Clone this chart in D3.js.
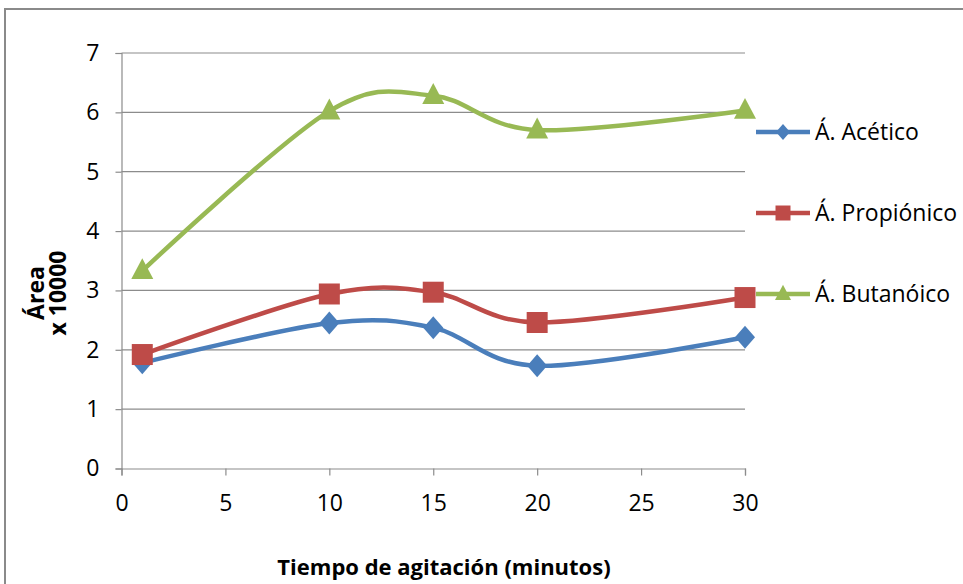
<!DOCTYPE html>
<html>
<head>
<meta charset="utf-8">
<script src="https://cdn.jsdelivr.net/npm/d3@7"></script>
<style>
  html, body { margin: 0; padding: 0; background: #fff; }
  svg { display: block; }
  text { font-family: "Open Sans", "Noto Sans", sans-serif; fill: #000; }
</style>
</head>
<body>
<svg id="chart" width="963" height="584"></svg>
<script>
// Tiempo de agitación (min) on the x axis
const tiempos = [1, 10, 15, 20, 30];

// Área x 10000 for each acid
const acetico    = [1.78, 2.45, 2.37, 1.73, 2.21];
const propionico = [1.92, 2.94, 2.97, 2.46, 2.88];
const butanoico  = [3.33, 6.02, 6.28, 5.70, 6.03];

const seriesNames = ["Á. Acético", "Á. Propiónico", "Á. Butanóico"];
const xTicks = [0, 5, 10, 15, 20, 25, 30];
const yTicks = [0, 1, 2, 3, 4, 5, 6, 7];

const series = [
  { name: seriesNames[0], values: acetico,    color: "#4A7EBB", marker: "diamond" },
  { name: seriesNames[1], values: propionico, color: "#BE4B48", marker: "square" },
  { name: seriesNames[2], values: butanoico,  color: "#98B954", marker: "triangle" }
];

const svg = d3.select("#chart");

// outer chart frame
svg.append("rect")
  .attr("x", 5).attr("y", 9)
  .attr("width", 1000).attr("height", 600)
  .attr("fill", "none").attr("stroke", "#8a8a8a").attr("stroke-width", 2);

const x = d3.scaleLinear().domain([0, 30]).range([121.5, 745]);
const y = d3.scaleLinear().domain([0, 7]).range([468.5, 53]);

// horizontal gridlines
svg.append("g").selectAll("line").data(yTicks.filter(d => d > 0)).join("line")
  .attr("x1", x(0)).attr("x2", x(30))
  .attr("y1", d => y(d)).attr("y2", d => y(d))
  .attr("stroke", "#8c8c8c").attr("stroke-width", 1.2);

// y axis
const yAxis = svg.append("g")
  .attr("transform", `translate(${x(0)},0)`)
  .call(d3.axisLeft(y).tickValues(yTicks).tickSize(6).tickPadding(16).tickFormat(d3.format("d")));
yAxis.select(".domain").attr("stroke", "#8c8c8c").attr("stroke-width", 1.2);
yAxis.selectAll(".tick line").attr("stroke", "#8c8c8c").attr("stroke-width", 1.2);
yAxis.selectAll(".tick text").style("font-size", "23px").attr("fill", "#000");

// x axis
const xAxis = svg.append("g")
  .attr("transform", `translate(0,${y(0)})`)
  .call(d3.axisBottom(x).tickValues(xTicks).tickSize(7).tickPadding(19).tickFormat(d3.format("d")));
xAxis.select(".domain").attr("stroke", "#8c8c8c").attr("stroke-width", 1.2);
xAxis.selectAll(".tick line").attr("stroke", "#8c8c8c").attr("stroke-width", 1.2);
xAxis.selectAll(".tick text").style("font-size", "23px").attr("fill", "#000");

// axis titles
svg.append("text")
  .attr("x", 444).attr("y", 575)
  .attr("text-anchor", "middle")
  .style("font-size", "22px").style("font-weight", "bold")
  .text("Tiempo de agitación (minutos)");

const yTitle = svg.append("text")
  .attr("transform", "translate(44,293) rotate(-90)")
  .attr("text-anchor", "middle")
  .style("font-size", "23px").style("font-weight", "bold");
yTitle.append("tspan").attr("x", 0).attr("dy", "0").text("Área");
yTitle.append("tspan").attr("x", 0).attr("dy", "22").text("x 10000");

// marker shapes
function markerPath(type, s) {
  if (type === "diamond") return `M0,${-s * 1.15}L${s},0L0,${s * 1.15}L${-s},0Z`;
  if (type === "square") return `M${-s},${-s}H${s}V${s}H${-s}Z`;
  return `M0,${-s * 1.15}L${s},${s * 0.75}H${-s}Z`;
}
const markerSize = { diamond: 10, square: 10.5, triangle: 11 };
const legendMarkerSize = { diamond: 7, square: 7.5, triangle: 8 };

const line = d3.line()
  .x((d, i) => x(tiempos[i]))
  .y(d => y(d))
  .curve(d3.curveCardinal.tension(0));

series.forEach(s => {
  const g = svg.append("g");
  g.append("path")
    .attr("d", line(s.values))
    .attr("fill", "none")
    .attr("stroke", s.color)
    .attr("stroke-width", 4.5)
    .attr("stroke-linejoin", "round")
    .attr("stroke-linecap", "round");
  g.selectAll("path.m").data(s.values).join("path")
    .attr("class", "m")
    .attr("transform", (d, i) => `translate(${x(tiempos[i])},${y(d)})`)
    .attr("d", markerPath(s.marker, markerSize[s.marker]))
    .attr("fill", s.color);
});

// legend
const legend = svg.append("g");
series.forEach((s, i) => {
  const ly = 132 + i * 81;
  legend.append("line")
    .attr("x1", 756).attr("x2", 810)
    .attr("y1", ly).attr("y2", ly)
    .attr("stroke", s.color).attr("stroke-width", 4.5);
  legend.append("path")
    .attr("transform", `translate(783,${ly})`)
    .attr("d", markerPath(s.marker, legendMarkerSize[s.marker]))
    .attr("fill", s.color);
  legend.append("text")
    .attr("x", 815).attr("y", ly)
    .attr("dy", "0.36em")
    .style("font-size", "23px")
    .text(s.name);
});
</script>
</body>
</html>
